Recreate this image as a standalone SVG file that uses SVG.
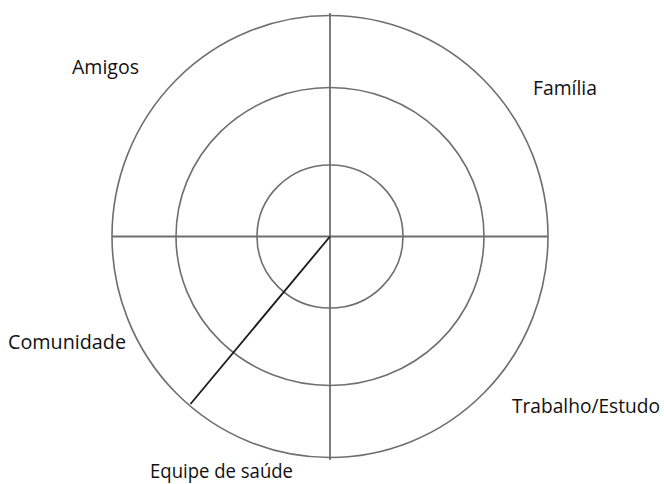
<svg xmlns="http://www.w3.org/2000/svg" width="664" height="484" viewBox="0 0 664 484">
<style>
.ring{fill:none;stroke:#6e6e6e;stroke-width:1.6}
.axis{stroke:#6e6e6e;stroke-width:1.8}
.spoke{stroke:#1a1a1a;stroke-width:1.8}
.lbl{font-family:"Open Sans","Noto Sans",sans-serif;font-size:19.5px;fill:#111}
</style>
<rect width="664" height="484" fill="#fff"/>
<g id="rings">
<ellipse id="outer" class="ring" cx="330" cy="236.5" rx="218" ry="221"/>
<ellipse id="middle" class="ring" cx="330" cy="236.5" rx="154" ry="149"/>
<ellipse id="inner" class="ring" cx="330" cy="236.5" rx="73" ry="71.5"/>
</g>
<g id="connectors">
<line class="axis" x1="112" y1="236.5" x2="548" y2="236.5"/>
<line class="axis" x1="330" y1="13" x2="330" y2="460"/>
<line class="spoke" x1="330" y1="236.5" x2="190.5" y2="404"/>
</g>
<g id="labels">
<text id="amigos" class="lbl" x="72" y="74" textLength="67" lengthAdjust="spacingAndGlyphs">Amigos</text>
<text id="familia" class="lbl" x="533" y="95" textLength="64" lengthAdjust="spacingAndGlyphs">Família</text>
<text id="comunidade" class="lbl" x="8" y="349" textLength="118" lengthAdjust="spacingAndGlyphs">Comunidade</text>
<text id="trabalho" class="lbl" x="512" y="413" textLength="148" lengthAdjust="spacingAndGlyphs">Trabalho/Estudo</text>
<text id="equipe" class="lbl" x="150" y="478" textLength="143" lengthAdjust="spacingAndGlyphs">Equipe de saúde</text>
</g>
</svg>
